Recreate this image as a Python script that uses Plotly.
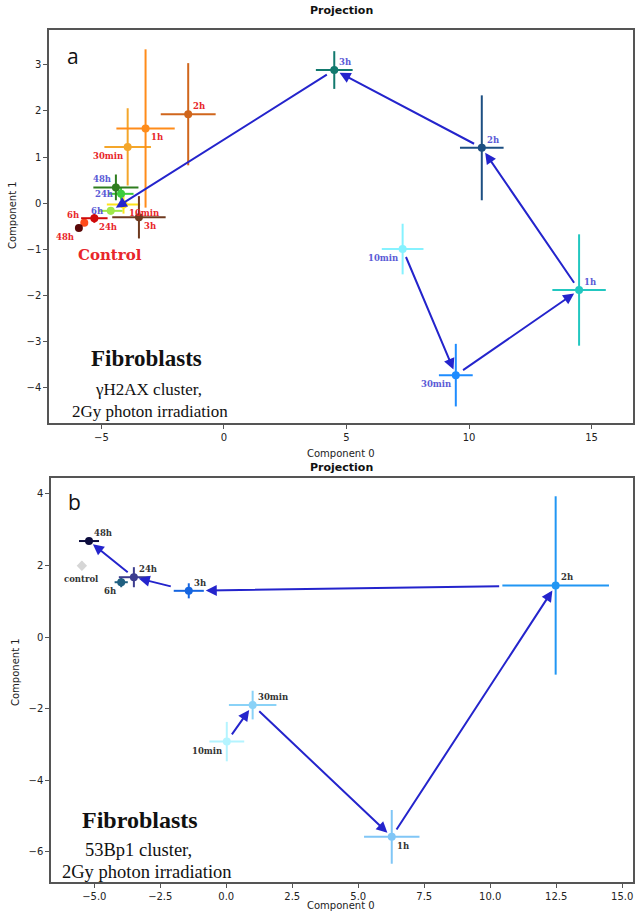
import plotly.graph_objects as go

# ---------------- data ----------------
time_labels = ['10min', '30min', '1h', '2h', '3h', '6h', '24h', '48h']

# panel a: irradiated series
a_irr_x = [7.29, 9.46, 14.49, 10.52, 4.5, -4.62, -4.2, -4.41]
a_irr_y = [-1.0, -3.74, -1.89, 1.2, 2.89, -0.17, 0.2, 0.34]
a_irr_ex = [0.85, 0.69, 1.09, 0.89, 0.75, 0.48, 0.51, 0.92]
a_irr_ey = [0.55, 0.68, 1.21, 1.14, 0.41, 0.08, 0.13, 0.28]

# panel a: control series
a_ctl_x = [-4.1, -3.93, -3.2, -1.46, -3.47, -5.7, -5.29, -5.92]
a_ctl_y = [-0.03, 1.22, 1.62, 1.93, -0.31, -0.43, -0.33, -0.54]
a_ctl_ex = [0.68, 0.95, 1.19, 1.12, 1.09, 0.12, 0.54, 0.08]
a_ctl_ey = [0.2, 0.84, 1.72, 1.11, 0.46, 0.06, 0.1, 0.05]

# panel b: irradiated series
b_irr_x = [0.02, 1.0, 6.27, 12.48, -1.42, -3.98, -3.5, -5.2]
b_irr_y = [-2.92, -1.9, -5.58, 1.44, 1.29, 1.53, 1.67, 2.68]
b_irr_ex = [0.66, 0.9, 1.05, 2.02, 0.57, 0.25, 0.57, 0.38]
b_irr_ey = [0.55, 0.4, 0.75, 2.49, 0.21, 0.14, 0.28, 0.08]

# panel b: control
b_ctl_label = 'control'
b_ctl_x = [-5.47]
b_ctl_y = [1.99]
b_ctl_ex = [0.12]
b_ctl_ey = [0.12]

# ---------------- styles ----------------
a_irr_colors = ['#86f2ff', '#1e8cff', '#22c7c0', '#1d4f82', '#12796e', '#9fe84a', '#3ccc3c', '#2f7d1f']
a_ctl_colors = ['#ffe21a', '#f4a62a', '#ff8c1a', '#d0661c', '#6e3a1f', '#ff4a1a', '#cf0a0a', '#5a0808']
b_irr_colors = ['#b4f4ff', '#8ad2f7', '#80c6f6', '#2196f3', '#1565e0', '#1f5f80', '#3d3d8f', '#0c0c3e']
b_ctl_color = '#d6d6d6'

a_irr_pos = ['bl', 'bl', 'tr', 'tr', 'tr', 'l', 'l', 'tl']
a_ctl_pos = ['br', 'bl', 'br', 'tr', 'br', 'tl', 'br', 'bl']
b_irr_pos = ['bl', 'tr', 'br', 'tr', 'tr', 'bl', 'tr', 'tr']

ARROW = '#2424cc'
LBL_BLUE = '#5a5ad6'
LBL_RED = '#e8262a'
LBL_DARK = '#333333'

pos_map = {
    'tr': ('left', 'bottom', 3, 1),
    'br': ('left', 'top', 3, -2),
    'bl': ('right', 'top', -3, -2),
    'tl': ('right', 'bottom', -3, 1),
    'l': ('right', 'middle', -6, 0),
    'r': ('left', 'middle', 6, 0),
    'b': ('center', 'top', 0, -6),
}

fig = go.Figure()
annotations = []


def add_point(xa, ya, x, y, ex, ey, color, symbol='circle', size=8):
    fig.add_trace(go.Scatter(
        x=[x], y=[y], mode='markers', xaxis=xa, yaxis=ya,
        marker=dict(color=color, size=size, symbol=symbol, line=dict(width=0)),
        error_x=dict(type='data', array=[ex], color=color, thickness=2, width=0),
        error_y=dict(type='data', array=[ey], color=color, thickness=2, width=0),
        showlegend=False, hoverinfo='skip'))


def add_label(xa, ya, x, y, text, pos, color):
    xanchor, yanchor, xs, ys = pos_map[pos]
    annotations.append(dict(
        x=x, y=y, xref=xa, yref=ya, text=text, showarrow=False,
        xanchor=xanchor, yanchor=yanchor, xshift=xs, yshift=ys,
        font=dict(family='DejaVu Serif', size=8.5, color=color, weight='bold')))


def add_arrow(xa, ya, x0, y0, x1, y1, start=6, end=5):
    annotations.append(dict(
        x=x1, y=y1, ax=x0, ay=y0, xref=xa, yref=ya, axref=xa, ayref=ya,
        text='', showarrow=True, arrowhead=2, arrowsize=1.1, arrowwidth=2,
        arrowcolor=ARROW, standoff=end, startstandoff=start))


# ---- panel a ----
for i in range(5):
    add_arrow('x', 'y', a_irr_x[i], a_irr_y[i], a_irr_x[i + 1], a_irr_y[i + 1], start=7, end=6)

for i in range(len(time_labels)):
    add_point('x', 'y', a_ctl_x[i], a_ctl_y[i], a_ctl_ex[i], a_ctl_ey[i], a_ctl_colors[i])
    add_label('x', 'y', a_ctl_x[i], a_ctl_y[i], time_labels[i], a_ctl_pos[i], LBL_RED)
for i in range(len(time_labels)):
    add_point('x', 'y', a_irr_x[i], a_irr_y[i], a_irr_ex[i], a_irr_ey[i], a_irr_colors[i])
    add_label('x', 'y', a_irr_x[i], a_irr_y[i], time_labels[i], a_irr_pos[i], LBL_BLUE)

# ---- panel b ----
b_order = [0, 1, 2, 3, 4, 6, 7]
b_start = [7, 7, 7, 55, 17, 6]
b_end = [6, 6, 6, 17, 5, 5]
for k in range(len(b_order) - 1):
    i, j = b_order[k], b_order[k + 1]
    add_arrow('x2', 'y2', b_irr_x[i], b_irr_y[i], b_irr_x[j], b_irr_y[j], start=b_start[k], end=b_end[k])

add_point('x2', 'y2', b_ctl_x[0], b_ctl_y[0], b_ctl_ex[0], b_ctl_ey[0], b_ctl_color, symbol='diamond', size=8)
add_label('x2', 'y2', b_ctl_x[0], b_ctl_y[0], b_ctl_label, 'b', LBL_DARK)
for i in range(len(time_labels)):
    add_point('x2', 'y2', b_irr_x[i], b_irr_y[i], b_irr_ex[i], b_irr_ey[i], b_irr_colors[i])
    add_label('x2', 'y2', b_irr_x[i], b_irr_y[i], time_labels[i], b_irr_pos[i], LBL_DARK)

W, H = 636, 913


def px(xp):
    return xp / W


def py(yp):
    return 1 - yp / H


sans = 'DejaVu Sans'
serif = 'Liberation Serif'

texts = [
    ('Projection', 341, 10, dict(family=sans, size=11, color='#111', weight='bold'), 0),
    ('Projection', 341, 467, dict(family=sans, size=11, color='#111', weight='bold'), 0),
    ('Component 0', 341, 453, dict(family=sans, size=10, color='#222'), 0),
    ('Component 0', 341, 905, dict(family=sans, size=10, color='#222'), 0),
    ('Component 1', 13, 215, dict(family=sans, size=10, color='#222'), -90),
    ('Component 1', 15, 672, dict(family=sans, size=10, color='#222'), -90),
    ('a', 73, 56, dict(family='Open Sans', size=21, color='#111'), 0),
    ('b', 74, 502, dict(family='Open Sans', size=21, color='#111'), 0),
    ('Fibroblasts', 146, 358, dict(family=serif, size=23, color='#111', weight='bold'), 0),
    ('γH2AX cluster,', 148, 389, dict(family=serif, size=17, color='#111'), 0),
    ('2Gy photon irradiation', 150, 411, dict(family=serif, size=17, color='#111'), 0),
    ('Fibroblasts', 140, 820, dict(family=serif, size=24, color='#111', weight='bold'), 0),
    ('53Bp1 cluster,', 138, 850, dict(family=serif, size=18.5, color='#111'), 0),
    ('2Gy photon irradiation', 147, 872, dict(family=serif, size=18.5, color='#111'), 0),
    ('Control', 110, 255, dict(family='DejaVu Serif', size=15, color='#e8262a', weight='bold'), 0),
]
for t, xp, yp, f, ang in texts:
    annotations.append(dict(text=t, x=px(xp), y=py(yp), xref='paper', yref='paper',
                            showarrow=False, xanchor='center', yanchor='middle',
                            font=f, textangle=ang))

axis_common = dict(showline=True, mirror=True, linecolor='#555555', linewidth=1.5,
                   ticks='outside', ticklen=4, tickwidth=1, tickcolor='#555555',
                   showgrid=False, zeroline=False, automargin=False,
                   tickfont=dict(family=sans, size=10, color='#222'))

fig.update_layout(
    width=W, height=H, margin=dict(l=0, r=0, t=0, b=0, autoexpand=False),
    paper_bgcolor='white', plot_bgcolor='white', showlegend=False,
    xaxis=dict(domain=[px(49), px(633)], range=[-7.14, 16.69], anchor='y', dtick=5, tick0=0, **axis_common),
    yaxis=dict(domain=[py(423), py(30)], range=[-4.78, 3.76], anchor='x', dtick=1, tick0=0, **axis_common),
    xaxis2=dict(domain=[px(51), px(633)], range=[-6.64, 15.41], anchor='y2', dtick=2.5, tick0=0,
                tickformat='.1f', **axis_common),
    yaxis2=dict(domain=[py(882), py(478)], range=[-6.84, 4.44], anchor='x2', dtick=2, tick0=0, **axis_common),
    annotations=annotations,
)

fig.write_html('out.html', config={'displayModeBar': False},
               post_script="document.body.style.margin='0';document.body.style.overflow='hidden';")
